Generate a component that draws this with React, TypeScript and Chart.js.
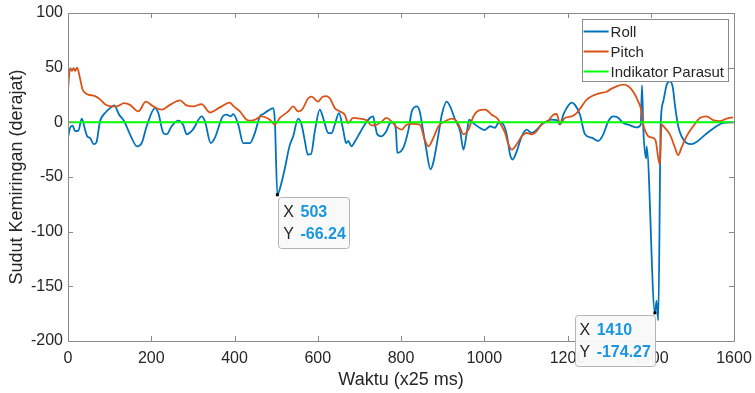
import React, { useEffect, useRef } from 'react';
import { Chart, registerables } from 'chart.js';

Chart.register(...registerables);

// ---- data ----
const rollX = [0, 5, 11, 17, 25, 33, 41, 46, 53, 62, 68, 77, 89, 101, 111, 123, 135, 149, 166, 177, 189, 209, 217, 229, 237, 249, 265, 277, 285, 300, 321, 329, 343, 353, 372, 381, 391, 397, 409, 421, 437, 449, 461, 469, 481, 493, 497, 503, 513, 521, 532, 541, 553, 561, 569, 576, 584, 593, 605, 613, 625, 633, 641, 651, 661, 668, 673, 681, 690, 701, 713, 725, 733, 737, 743, 753, 765, 773, 781, 788, 791, 806, 818, 826, 838, 845, 852, 860, 871, 878, 890, 898, 910, 918, 930, 942, 950, 958, 964, 971, 990, 1001, 1014, 1026, 1034, 1042, 1054, 1062, 1068, 1078, 1090, 1102, 1114, 1126, 1138, 1150, 1162, 1174, 1182, 1190, 1198, 1210, 1218, 1230, 1242, 1258, 1274, 1286, 1298, 1310, 1320, 1334, 1350, 1366, 1376, 1379, 1382, 1389, 1390, 1410, 1414, 1418, 1424, 1430, 1438, 1446, 1453, 1458, 1466, 1474, 1486, 1498, 1510, 1526, 1542, 1558, 1574, 1598];
const rollY = [-14, -5, -3, -8, -7.6, 3.4, -6.7, -12.8, -14.3, -20, -18.6, 1, 8.5, 13, 15.5, 7, 1, -11, -22, -19, -3.6, 13, 8.5, -9.7, -11, -3.6, 1.5, -2.7, -11, -6.7, 5.5, 1, -19, -14, 5.5, 7, 5.5, 7.5, -2, -19, -19, -9.7, 5.5, 7.6, 10.7, 13, 1, -66.24, -55, -42, -22, -12.8, 3.4, -2, -17, -29.5, -29, -8, 11.6, 4, -9.7, -10, -2, 8.5, -6.7, -19, -17, -22, -17, -9.7, -2, 4, 5.5, -1, -11, -12.8, -8, -1, 0, -8, -28, -23, -6.7, 10, 14.6, 10, -5.2, -23, -43, -36, -11, 7, 19, 14.6, 2.4, -8, -25, -9.7, 2.4, 0, -5.2, -7, -3.6, -5, -0.6, -0.6, -11, -29.5, -34, -26.5, -12.8, -6.7, -9.7, -6.7, -2, 1, 2.4, 2, -2, 7, 13, 18, 16, 7, -11, -14, -17, -11, 1, 5.5, 4.6, -0.6, -2.7, -4.6, -2, 33.8, -5, -33, -22, -174.27, -163, -181, -0.6, 19, 34, 37.4, 32, 16, -3.6, -12.8, -19, -20, -18, -12.8, -8, -3.6, -0.6, 0];

const pitchX = [0, 5, 9, 14, 17, 22, 29, 35, 45, 65, 77, 91, 105, 117, 135, 149, 169, 187, 205, 225, 245, 269, 285, 301, 321, 341, 365, 389, 397, 413, 429, 441, 449, 465, 485, 497, 509, 529, 541, 553, 563, 577, 585, 601, 612, 621, 629, 641, 653, 665, 673, 685, 701, 717, 729, 737, 753, 765, 777, 790, 802, 814, 830, 845, 858, 866, 878, 890, 906, 922, 934, 942, 950, 962, 974, 986, 1002, 1018, 1034, 1038, 1050, 1058, 1066, 1078, 1090, 1102, 1114, 1126, 1138, 1154, 1166, 1174, 1182, 1194, 1210, 1222, 1234, 1246, 1262, 1278, 1294, 1306, 1318, 1334, 1346, 1358, 1370, 1378, 1382, 1389, 1394, 1406, 1412, 1418, 1422, 1426, 1434, 1446, 1458, 1466, 1474, 1486, 1502, 1518, 1534, 1550, 1566, 1582, 1598];
const pitchY = [30, 49.6, 47, 49.6, 47, 50, 40, 30, 26, 24, 21, 16, 14.6, 14.6, 17.6, 16, 10, 19, 14.6, 11.6, 16, 20, 15.5, 14.6, 16.7, 9, 13.7, 18, 15, 10, 2.4, 1.5, 2.4, 5.5, 2.4, -2, 4, 10, 14.6, 10, 12, 22, 23.6, 19, 23.6, 24, 22, 13, 10, 7, -0.6, 4, 3.4, 2, -2.7, -2.7, 0.6, 4, 1, -4.6, -6.7, -2, -1.5, -2, -17, -22, -14, -3.6, 1, 3.4, 1, -5, -11, -6.7, 5.5, 10.7, 11.6, 7, 2.4, -0.6, -9.7, -20, -25, -20, -12.8, -9.7, -11, -8, -1.5, 1.5, 7, 7.6, -1.5, 4, 5.5, 8.5, 14.6, 20.7, 24.6, 26.8, 28, 30.8, 32.9, 34.4, 33, 28, 19, 10, -2, -9.7, -12.8, -14.3, -17, -32.6, -38.6, -2, -5, -11, -23, -30, -23, -12.8, -3.6, 4, 5.5, 2, 1, 3.4, 4.6];

const indicatorX = [0, 1600];
const indicatorY = [0, 0];

const seriesLabels = ['Roll', 'Pitch', 'Indikator Parasut'];
const seriesColors = ['#0072BD', '#D95319', '#00FF00'];

const xMin = 0, xMax = 1600, xStep = 200;
const yMin = -200, yMax = 100, yStep = 50;
const xTitle = 'Waktu (x25 ms)';
const yTitle = 'Sudut Kemiringan (derajat)';

const tipX = [503, 1410];
const tipY = [-66.24, -174.27];
const tipSide = ['right', 'left'];

const FONT = '"Liberation Sans", Arial, Helvetica, sans-serif';
const TEXT = '#262626';
const AXIS = '#8a8a8a';

const toPts = (xs: number[], ys: number[]) => xs.map((x, i) => ({ x, y: ys[i] }));

const decorPlugin = {
  id: 'decor',
  afterDraw(chart: any) {
    const { ctx, chartArea } = chart;
    const xs = chart.scales.x;
    const ys = chart.scales.y;
    const { left, right, top, bottom } = chartArea;
    ctx.save();
    // frame + inward ticks
    ctx.strokeStyle = AXIS;
    ctx.lineWidth = 1;
    ctx.beginPath();
    ctx.rect(Math.round(left) + 0.5, Math.round(top) + 0.5, Math.round(right - left), Math.round(bottom - top));
    ctx.stroke();
    const tl = 5;
    ctx.beginPath();
    xs.ticks.forEach((t: any) => {
      const p = Math.round(xs.getPixelForValue(t.value)) + 0.5;
      ctx.moveTo(p, bottom); ctx.lineTo(p, bottom - tl);
      ctx.moveTo(p, top); ctx.lineTo(p, top + tl);
    });
    ys.ticks.forEach((t: any) => {
      const p = Math.round(ys.getPixelForValue(t.value)) + 0.5;
      ctx.moveTo(left, p); ctx.lineTo(left + tl, p);
      ctx.moveTo(right, p); ctx.lineTo(right - tl, p);
    });
    ctx.stroke();

    // legend
    ctx.font = `15px ${FONT}`;
    const lineLen = 25;
    const textW = Math.max(...seriesLabels.map((l) => ctx.measureText(l).width));
    const lw = 2 + lineLen + 2 + textW + 4;
    const rowH = 20;
    const lh = 12 + rowH * (seriesLabels.length - 1) + 10;
    const lx = right - 6 - lw;
    const ly = top + 6;
    ctx.fillStyle = '#ffffff';
    ctx.fillRect(lx, ly, lw, lh);
    ctx.strokeStyle = '#8a8a8a';
    ctx.strokeRect(Math.round(lx) + 0.5, Math.round(ly) + 0.5, Math.round(lw), Math.round(lh));
    seriesLabels.forEach((lab, i) => {
      const cy = ly + 12.5 + i * rowH;
      ctx.strokeStyle = seriesColors[i];
      ctx.lineWidth = 2;
      ctx.beginPath();
      ctx.moveTo(lx + 2, cy);
      ctx.lineTo(lx + 2 + lineLen, cy);
      ctx.stroke();
      ctx.fillStyle = TEXT;
      ctx.textBaseline = 'middle';
      ctx.textAlign = 'left';
      ctx.fillText(lab, lx + 2 + lineLen + 2, cy + 1);
    });

    // datatips
    tipX.forEach((tx, i) => {
      const px = xs.getPixelForValue(tx);
      const py = ys.getPixelForValue(tipY[i]);
      const xLab = 'X ';
      const yLab = 'Y ';
      const xVal = String(tx);
      const yVal = tipY[i].toFixed(2);
      ctx.font = `16px ${FONT}`;
      const labW = Math.max(ctx.measureText(xLab).width, ctx.measureText(yLab).width);
      ctx.font = `bold 16px ${FONT}`;
      const valW = Math.max(ctx.measureText(xVal).width, ctx.measureText(yVal).width);
      const bw = 5 + labW + valW + 6;
      const bh = 51;
      const bx = tipSide[i] === 'right' ? px + 1 : px - bw;
      const by = py + 2;
      ctx.fillStyle = 'rgba(249,249,249,0.96)';
      ctx.strokeStyle = '#b4b4b4';
      ctx.lineWidth = 1;
      ctx.beginPath();
      (ctx as any).roundRect(Math.round(bx) + 0.5, Math.round(by) + 0.5, Math.round(bw), bh, 3);
      ctx.fill();
      ctx.stroke();
      ctx.textBaseline = 'middle';
      ctx.textAlign = 'left';
      const rows = [[xLab, xVal], [yLab, yVal]];
      rows.forEach((r, j) => {
        const cy = by + 16 + j * 21.5;
        ctx.font = `16px ${FONT}`;
        ctx.fillStyle = TEXT;
        ctx.fillText(r[0].trim(), bx + 5, cy);
        ctx.font = `bold 16px ${FONT}`;
        ctx.fillStyle = '#1A96E0';
        ctx.fillText(r[1], bx + 5 + labW + 2, cy);
      });
      // marker
      ctx.fillStyle = '#000000';
      ctx.fillRect(px - 1.5, py - 1.5, 3, 3);
    });
    ctx.restore();
  },
};

export default function App() {
  const ref = useRef<HTMLCanvasElement | null>(null);
  useEffect(() => {
    document.body.style.margin = '0';
    const canvas = ref.current;
    if (!canvas) return;
    const chart = new Chart(canvas, {
      type: 'line',
      data: {
        datasets: [
          { label: seriesLabels[0], data: toPts(rollX, rollY), borderColor: seriesColors[0], borderWidth: 1.8, pointRadius: 0, cubicInterpolationMode: 'monotone', fill: false, order: 3 },
          { label: seriesLabels[1], data: toPts(pitchX, pitchY), borderColor: seriesColors[1], borderWidth: 1.8, pointRadius: 0, cubicInterpolationMode: 'monotone', fill: false, order: 2 },
          { label: seriesLabels[2], data: toPts(indicatorX, indicatorY), borderColor: seriesColors[2], borderWidth: 2, pointRadius: 0, fill: false, order: 1 },
        ],
      },
      options: {
        animation: false,
        responsive: false,
        devicePixelRatio: 1,
        layout: { padding: { left: 0, right: 21, top: 13, bottom: 0 } },
        plugins: { legend: { display: false }, tooltip: { enabled: false } },
        events: [],
        scales: {
          x: {
            type: 'linear',
            min: xMin,
            max: xMax,
            grid: { display: false, drawTicks: false },
            border: { display: false },
            ticks: { stepSize: xStep, color: TEXT, padding: 8, font: { size: 16, family: FONT }, maxRotation: 0, callback: (v: any) => String(v) },
            title: { display: true, text: xTitle, color: TEXT, font: { size: 18, family: FONT }, padding: { top: 0, bottom: 2 } },
            afterFit: (s: any) => { s.height = 52; s.paddingRight = 0; s.paddingLeft = 0; },
          },
          y: {
            type: 'linear',
            min: yMin,
            max: yMax,
            grid: { display: false, drawTicks: false },
            border: { display: false },
            ticks: { stepSize: yStep, color: TEXT, padding: 5, font: { size: 16, family: FONT }, callback: (v: any) => String(v) },
            title: { display: true, text: yTitle, color: TEXT, font: { size: 18, family: FONT }, padding: { top: 6, bottom: 0 } },
            afterFit: (s: any) => { s.width = 68; s.paddingTop = 0; s.paddingBottom = 0; },
          },
        },
      },
      plugins: [decorPlugin],
    } as any);
    return () => chart.destroy();
  }, []);
  return (
    <div style={{ width: 755, height: 393, background: '#fff' }}>
      <canvas ref={ref} width={755} height={393} style={{ display: 'block' }} />
    </div>
  );
}
